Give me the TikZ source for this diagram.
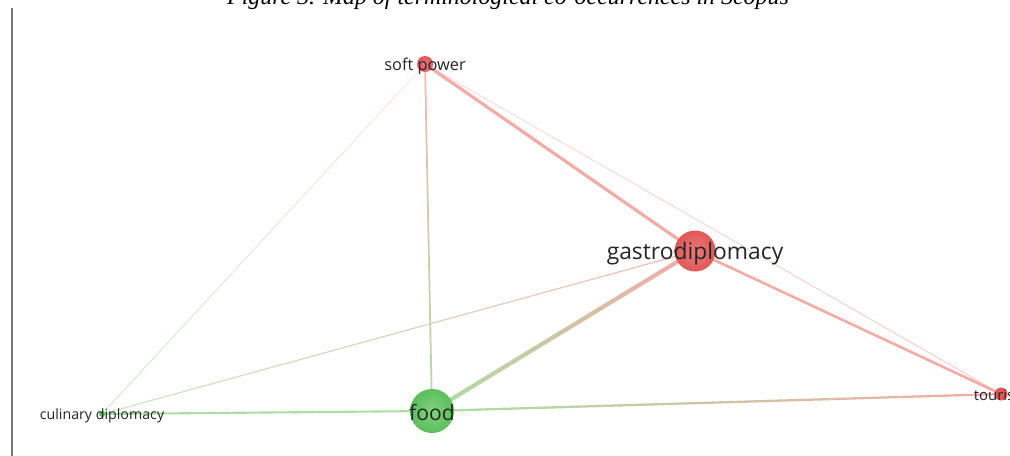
\documentclass[tikz,border=0pt]{standalone}
\usepackage{fontspec}
\setmainfont{Open Sans}
\newfontfamily\capfont{Liberation Serif}
\usetikzlibrary{calc}
\definecolor{nodeR}{RGB}{224,88,88}
\definecolor{nodeRl}{RGB}{236,120,120}
\definecolor{nodeG}{RGB}{92,190,92}
\definecolor{nodeGl}{RGB}{130,210,125}
\definecolor{edgeR}{RGB}{242,172,166}
\definecolor{edgeG}{RGB}{172,222,162}
\definecolor{capline}{RGB}{120,120,120}
\tikzset{
  dot/.style={circle, inner sep=0pt, draw=none},
  lab/.style={inner sep=0pt, text=black!85},
}
\newcommand\gedge[5]{%
  \foreach \i in {0,...,19}{%
    \pgfmathsetmacro\tA{\i/20}%
    \pgfmathsetmacro\tB{(\i+1)/20}%
    \pgfmathsetmacro\pc{100-(\i+0.5)*5}%
    \draw[line width=#5, color=#3!\pc!#4] ($(#1)!\tA!(#2)$) -- ($(#1)!\tB!(#2)$);
  }%
}
\begin{document}
\begin{tikzpicture}[x=0.02cm, y=-0.02cm]
\clip (0,0) rectangle (1010,456);
\fill[white] (0,0) rectangle (1010,456);
% caption (cut by top edge)
\node[anchor=base, inner sep=0pt, font=\capfont\itshape\fontsize{13.6}{16}\selectfont] (cap) at (508,5) {Figure 3. Map of terminological co-occurrences in Scopus};
\coordinate (lt) at (12,8);
\coordinate (lb) at (12,460);
\draw[capline, line width=0.8pt] (lt) -- (lb);
% node centres
\coordinate (sp) at (425,64);
\coordinate (gd) at (695,251);
\coordinate (tr) at (1001,394);
\coordinate (fd) at (432,411);
\coordinate (cd) at (102,414);
% edges
\gedge{sp}{tr}{edgeR!60!white}{edgeR!60!white}{0.6pt}
\gedge{sp}{cd}{edgeR!50!white}{edgeG!55!white}{0.6pt}
\gedge{cd}{gd}{edgeG!80!white}{edgeR!80!white}{0.7pt}
\gedge{sp}{fd}{edgeR!85!white}{edgeG}{1.0pt}
\gedge{cd}{fd}{edgeG}{edgeG}{1.2pt}
\gedge{fd}{tr}{edgeG}{edgeR}{1.3pt}
\gedge{gd}{tr}{edgeR}{edgeR}{1.5pt}
\gedge{sp}{gd}{edgeR}{edgeR}{1.8pt}
\gedge{fd}{gd}{edgeG}{edgeR}{2.4pt}
% circles
\node[dot, minimum size=16*0.02cm, inner color=nodeRl, outer color=nodeR] (spc) at (sp) {};
\node[dot, minimum size=41*0.02cm, inner color=nodeRl, outer color=nodeR] (gdc) at (gd) {};
\node[dot, minimum size=13*0.02cm, fill=nodeR] (trc) at (tr) {};
\node[dot, minimum size=44*0.02cm, inner color=nodeGl, outer color=nodeG] (fdc) at (fd) {};
\node[dot, minimum size=6*0.02cm, fill=nodeG] (cdc) at (cd) {};
% labels
\node[lab, font=\fontsize{9.3}{11}\selectfont] (spl) at ($(sp)+(0,2)$) {soft power};
\node[lab, font=\fontsize{13}{15}\selectfont] (gdl) at ($(gd)+(0,2.5)$) {gastrodiplomacy};
\node[lab, font=\fontsize{8.5}{10}\selectfont] (trl) at ($(tr)+(0,1.5)$) {tourism};
\node[lab, font=\fontsize{12}{14}\selectfont] (fdl) at ($(fd)+(0,1.5)$) {food};
\node[lab, font=\fontsize{8.1}{10}\selectfont] (cdl) at ($(cd)+(0,1.5)$) {culinary diplomacy};
\end{tikzpicture}
\end{document}
